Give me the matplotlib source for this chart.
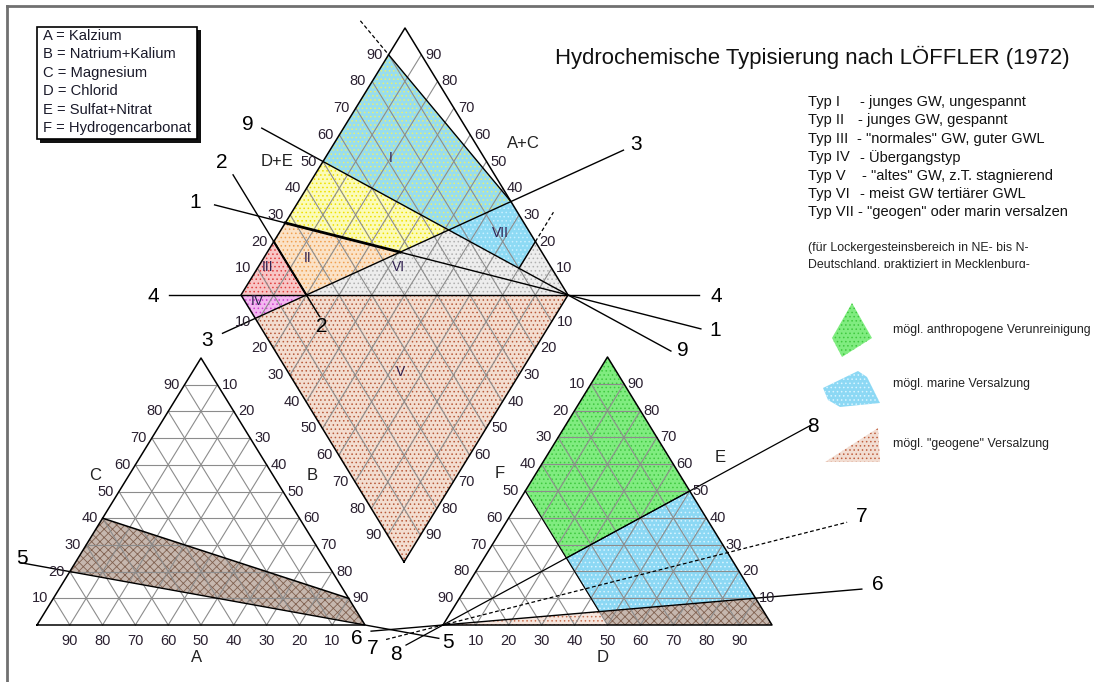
import matplotlib
matplotlib.use('Agg')
import matplotlib.pyplot as plt
from matplotlib.patches import Polygon, Rectangle
import numpy as np

plt.rcParams['font.family'] = ['Liberation Sans', 'DejaVu Sans']
plt.rcParams['hatch.linewidth'] = 0.6

# ---------------- data ----------------
tick_values = [10, 20, 30, 40, 50, 60, 70, 80, 90]

legend_abc = ["A = Kalzium", "B = Natrium+Kalium", "C = Magnesium",
              "D = Chlorid", "E = Sulfat+Nitrat", "F = Hydrogencarbonat"]

typ_names = ["Typ I", "Typ II", "Typ III", "Typ IV", "Typ V", "Typ VI", "Typ VII"]
typ_desc = ["- junges GW, ungespannt", "- junges GW, gespannt",
            '- "normales" GW, guter GWL', "- Übergangstyp",
            '- "altes" GW, z.T. stagnierend', "- meist GW tertiärer GWL",
            '- "geogen" oder marin versalzen']
typ_dash_x = [860, 858, 857, 860, 862, 860, 853]

note_lines = ["(für Lockergesteinsbereich in NE- bis N-",
              "Deutschland, praktiziert in Mecklenburg-"]

legend_right = ['mögl. anthropogene Verunreinigung', 'mögl. marine Versalzung',
                'mögl. "geogene" Versalzung']

# diamond regions, coordinates (p = D+E %, q = A+C %)
region_I = [(50, 100), (90, 100), (100, 35), (75.65, 48.7)]
region_VII = [(75.65, 48.7), (100, 35), (100, 20), (90, 20)]
region_Y = [(27, 100), (50, 100), (75.65, 48.7), (56.65, 59.4)]
region_II = [(20, 100), (27, 100), (56.65, 59.4), (20, 80)]
region_III = [(0, 100), (20, 100), (20, 80)]
region_IV = [(0, 100), (20, 80), (0, 91.25)]
region_V = [(0, 91.25), (20, 80), (100, 0), (0, 0)]
region_VI = [(20, 80), (75.65, 48.7), (90, 20), (100, 20), (100, 0)]

roman_labels = ["I", "II", "III", "IV", "V", "VI", "VII"]
roman_pos = [(71.4, 79.9), (27.3, 86.6), (13.3, 97.2), (4.0, 93.8),
             (34.4, 36.8), (53.4, 57.1), (91.0, 32.3)]

# diamond dividing lines: anchors (p,q) and parameter range
dia_lines = {
    "1": ((27, 100), (100, 0), (-0.25, 1.47)),
    "2": ((20, 100), (20, 80), (-1.25, 1.4)),
    "3": ((20, 80), (100, 35), (-0.41, 1.55)),
    "4": ((0, 100), (100, 0), (-0.22, 1.4)),
    "9": ((50, 100), (100, 0), (-0.25, 1.42)),
}

# cation triangle (A, B, C)
cat_geogen = [(60, 0, 40), (0, 90, 10), (0, 100, 0), (80, 0, 20)]
line5 = ((80, 0, 20), (0, 100, 0), (-0.17, 1.25))

# anion triangle (F, D, E)
an_green = [(0, 0, 100), (0, 50, 50), (50, 25, 25), (50, 0, 50)]
an_marine = [(0, 50, 50), (0, 90, 10), (50, 45, 5), (50, 25, 25)]
an_geogen = [(50, 45, 5), (0, 90, 10), (0, 100, 0), (50, 50, 0)]
an_light = [(100, 0, 0), (50, 45, 5), (50, 50, 0)]
line6 = ((100, 0, 0), (0, 90, 10), (-0.23, 1.34))
line7 = ((100, 0, 0), (0, 73, 27), (-0.2, 1.42))
line8 = ((100, 0, 0), (0, 50, 50), (-0.15, 1.5))

# ---------------- geometry ----------------
CAT = dict(L=(37, 625), R=(365, 625), T=(201, 358))
AN = dict(L=(443, 625), R=(772, 625), T=(607.5, 357))
DIA = dict(B=(404, 562), R=(568, 295), L=(241, 295))


def tern(c, a, b, t):
    x = (c['L'][0] * a + c['R'][0] * b + c['T'][0] * t) / 100.0
    y = (c['L'][1] * a + c['R'][1] * b + c['T'][1] * t) / 100.0
    return x, y


def dia(p, q):
    B, R, L = DIA['B'], DIA['R'], DIA['L']
    x = B[0] + (R[0] - B[0]) * p / 100.0 + (L[0] - B[0]) * q / 100.0
    y = B[1] + (R[1] - B[1]) * p / 100.0 + (L[1] - B[1]) * q / 100.0
    return x, y


fig = plt.figure(figsize=(10.94, 6.82), dpi=100)
ax = fig.add_axes([0, 0, 1, 1])
ax.set_xlim(0, 1094)
ax.set_ylim(682, 0)
ax.axis('off')

GRID = dict(color='#8c8c8c', lw=0.8, zorder=3)
TICKFS = 10.5
TICKC = '#2a2030'


def fill(pts, face, hatch=None, hcolor=None, z=1):
    ax.add_patch(Polygon(pts, closed=True, facecolor=face, edgecolor='none', lw=0, zorder=z))
    if hatch:
        ax.add_patch(Polygon(pts, closed=True, facecolor='none', edgecolor=hcolor,
                             lw=0, hatch=hatch, zorder=z + 0.1))


# ---- fills diamond ----
fill([dia(*p) for p in region_I], '#98ddee', '....', '#e8f070')
fill([dia(*p) for p in region_VII], '#8ddaf4', '....', '#c8f0ff')
fill([dia(*p) for p in region_Y], '#fbfbb8', '....', '#f0e000')
fill([dia(*p) for p in region_II], '#fbe2c6', '....', '#f0a050')
fill([dia(*p) for p in region_III], '#f8c6c6', '....', '#e04040')
fill([dia(*p) for p in region_IV], '#f3b8f0', '....', '#d040d0')
fill([dia(*p) for p in region_V], '#f3ddd0', '....', '#b85a3a')
fill([dia(*p) for p in region_VI], '#ededed', '....', '#b0b0b0')

# ---- fills triangles ----
fill([tern(CAT, *p) for p in cat_geogen], '#c6b7ae', 'xxxx', '#80604f')
fill([tern(AN, *p) for p in an_green], '#80ec80', '....', '#40c840')
fill([tern(AN, *p) for p in an_marine], '#8cd8f4', '....', '#d8f4ff')
fill([tern(AN, *p) for p in an_geogen], '#c6b7ae', 'xxxx', '#80604f')
fill([tern(AN, *p) for p in an_light], '#f6e6de', '....', '#c87050')

# ---- grids ----
for v in tick_values:
    for c in (CAT, AN):
        for seg in [((100 - v, 0, v), (0, 100 - v, v)),
                    ((v, 100 - v, 0), (v, 0, 100 - v)),
                    ((100 - v, v, 0), (0, v, 100 - v))]:
            p1, p2 = tern(c, *seg[0]), tern(c, *seg[1])
            ax.plot([p1[0], p2[0]], [p1[1], p2[1]], **GRID)
    for seg in [((v, 0), (v, 100)), ((0, v), (100, v))]:
        p1, p2 = dia(*seg[0]), dia(*seg[1])
        ax.plot([p1[0], p2[0]], [p1[1], p2[1]], **GRID)

# ---- outlines ----
for c in (CAT, AN):
    pts = [c['L'], c['R'], c['T'], c['L']]
    ax.plot([p[0] for p in pts], [p[1] for p in pts], color='black', lw=1.1, zorder=5)
corners = [dia(0, 0), dia(100, 0), dia(100, 100), dia(0, 100), dia(0, 0)]
ax.plot([p[0] for p in corners], [p[1] for p in corners], color='black', lw=1.1, zorder=5)

# region boundaries in the diamond
for seg in [((90, 100), (100, 35)), ((90, 20), (100, 20))]:
    p1, p2 = dia(*seg[0]), dia(*seg[1])
    ax.plot([p1[0], p2[0]], [p1[1], p2[1]], color='black', lw=1.0, zorder=6)
for seg in [((87.7, 115), (90, 100)), ((100, 20), (111, 20))]:
    p1, p2 = dia(*seg[0]), dia(*seg[1])
    ax.plot([p1[0], p2[0]], [p1[1], p2[1]], color='black', lw=0.9, ls=(0, (3, 2)), zorder=6)

# numbered lines in the diamond
for name, (a, b, (t0, t1)) in dia_lines.items():
    pa, pb = np.array(dia(*a)), np.array(dia(*b))
    s = pa + (pb - pa) * t0
    e = pa + (pb - pa) * t1
    ax.plot([s[0], e[0]], [s[1], e[1]], color='black', lw=1.0, zorder=6)
# thick part of line 1
p1, p2 = dia(27, 100), dia(56.65, 59.4)
ax.plot([p1[0], p2[0]], [p1[1], p2[1]], color='black', lw=2.0, zorder=6)
p1, p2 = dia(20, 100), dia(20, 80)
ax.plot([p1[0], p2[0]], [p1[1], p2[1]], color='black', lw=1.5, zorder=6)


def tline(c, spec, **kw):
    a, b, (t0, t1) = spec
    pa, pb = np.array(tern(c, *a)), np.array(tern(c, *b))
    s = pa + (pb - pa) * t0
    e = pa + (pb - pa) * t1
    ax.plot([s[0], e[0]], [s[1], e[1]], zorder=6, **kw)


tline(CAT, line5, color='black', lw=1.0)
tline(AN, line6, color='black', lw=1.0)
tline(AN, line7, color='black', lw=0.9, ls=(0, (3, 2)))
tline(AN, line8, color='black', lw=0.9)

# upper boundary of cation shaded region
p1, p2 = tern(CAT, *cat_geogen[0]), tern(CAT, *cat_geogen[1])
ax.plot([p1[0], p2[0]], [p1[1], p2[1]], color='black', lw=1.1, zorder=6)
for seg in [(an_green[1], an_green[2]), (an_green[2], an_green[3]), (an_marine[2], an_marine[3])]:
    p1, p2 = tern(AN, *seg[0]), tern(AN, *seg[1])
    ax.plot([p1[0], p2[0]], [p1[1], p2[1]], color='black', lw=0.8, zorder=6)

# ---- tick labels ----
tk = dict(fontsize=TICKFS, color=TICKC, va='center', zorder=8)
for v in tick_values:
    # cation
    x, y = tern(CAT, v, 100 - v, 0)
    ax.text(x, y + 16, str(v), ha='center', **tk)
    x, y = tern(CAT, 100 - v, 0, v)
    ax.text(x - 5, y, str(v), ha='right', **tk)
    x, y = tern(CAT, 0, v, 100 - v)
    ax.text(x + 4, y, str(v), ha='left', **tk)
    # anion
    x, y = tern(AN, 100 - v, v, 0)
    ax.text(x, y + 16, str(v), ha='center', **tk)
    x, y = tern(AN, v, 0, 100 - v)
    ax.text(x - 6, y, str(v), ha='right', **tk)
    x, y = tern(AN, 0, 100 - v, v)
    ax.text(x + 3, y, str(v), ha='left', **tk)
    # diamond
    x, y = dia(v, 100)
    ax.text(x - 6, y, str(v), ha='right', **tk)
    x, y = dia(100, v)
    ax.text(x + 4, y, str(v), ha='left', **tk)
    x, y = dia(0, 100 - v)
    ax.text(x - 6, y, str(v), ha='right', **tk)
    x, y = dia(100 - v, 0)
    ax.text(x + 5, y, str(v), ha='left', **tk)

ax_t = dict(fontsize=12, color='#222222', ha='center', va='center', zorder=8)
ax.text(95, 475, "C", **ax_t)
ax.text(312, 475, "B", **ax_t)
ax.text(197, 658, "A", **ax_t)
ax.text(277, 162, "D+E", **ax_t)
ax.text(523, 143, "A+C", **ax_t)
ax.text(500, 474, "F", **ax_t)
ax.text(720, 458, "E", **ax_t)
ax.text(603, 658, "D", **ax_t)

for lab, (p, q) in zip(roman_labels, roman_pos):
    x, y = dia(p, q)
    ax.text(x, y, lab, fontsize=10, color='#302050', ha='center', va='center', zorder=8)

# line numbers
num = dict(fontsize=15, color='black', ha='center', va='center', zorder=8)
for lab, pos in [("1", (195, 202)), ("1", (715, 330)), ("2", (222, 162)), ("2", (322, 326)),
                 ("3", (636, 145)), ("3", (207, 340)), ("4", (153, 296)), ("4", (716, 296)),
                 ("9", (248, 125)), ("9", (683, 350)), ("5", (22, 558)), ("5", (448, 642)),
                 ("6", (357, 638)), ("6", (878, 585)), ("7", (373, 648)), ("7", (862, 517)),
                 ("8", (396, 654)), ("8", (813, 427))]:
    ax.text(pos[0], pos[1], lab, **num)

# ---- legend box top-left ----
ax.add_patch(Rectangle((40, 30), 161, 113, facecolor='#111111', edgecolor='none', zorder=9))
ax.add_patch(Rectangle((37, 27), 160, 112, facecolor='white', edgecolor='black', lw=1.2, zorder=10))
for i, s in enumerate(legend_abc):
    ax.text(43, 36 + i * 18.4, s, fontsize=10.6, color='#1a1a2a', ha='left', va='center', zorder=11)

# ---- title & type legend ----
ax.text(812, 57, "Hydrochemische Typisierung nach LÖFFLER (1972)", fontsize=15.9,
        color='#111111', ha='center', va='center', zorder=8)
for i, (n, d) in enumerate(zip(typ_names, typ_desc)):
    y = 102 + i * 18.4
    if i == len(typ_names) - 1:
        ax.text(808, y, n + " " + d, fontsize=10.5, color='#111111', ha='left',
                va='center', zorder=8)
    else:
        ax.text(808, y, n, fontsize=10.5, color='#111111', ha='left', va='center', zorder=8)
        ax.text(typ_dash_x[i], y, d, fontsize=10.5, color='#111111', ha='left',
                va='center', zorder=8)

clip = Rectangle((790, 230), 300, 37.5, transform=ax.transData, facecolor='none', edgecolor='none')
ax.add_patch(clip)
for i, s in enumerate(note_lines):
    t = ax.text(808, 248 + i * 17, s, fontsize=8.9, color='#222222', ha='left', va='center',
                zorder=8, clip_on=True)
    t.set_clip_path(clip)

# ---- right legend ----
green_shape = [(852, 303), (872, 338), (842, 357), (832, 338)]
blue_shape = [(823, 388), (858, 371), (867, 377), (880, 403), (840, 407), (828, 400)]
brown_shape = [(825, 462), (878, 428), (880, 462)]
fill(green_shape, '#80ec80', '....', '#40c840', z=8)
fill(blue_shape, '#8cd8f4', '....', '#d8f4ff', z=8)
fill(brown_shape, '#f2ddd2', '....', '#c06040', z=8)
for s, y in zip(legend_right, [330, 384, 444]):
    ax.text(893, y, s, fontsize=8.9, color='#222222', ha='left', va='center', zorder=8)

# ---- frame ----
ax.plot([7, 7], [6, 682], color='#707070', lw=2, zorder=12)
ax.plot([7, 1094], [6, 6], color='#707070', lw=2, zorder=12)

fig.savefig('out.png', dpi=100)
